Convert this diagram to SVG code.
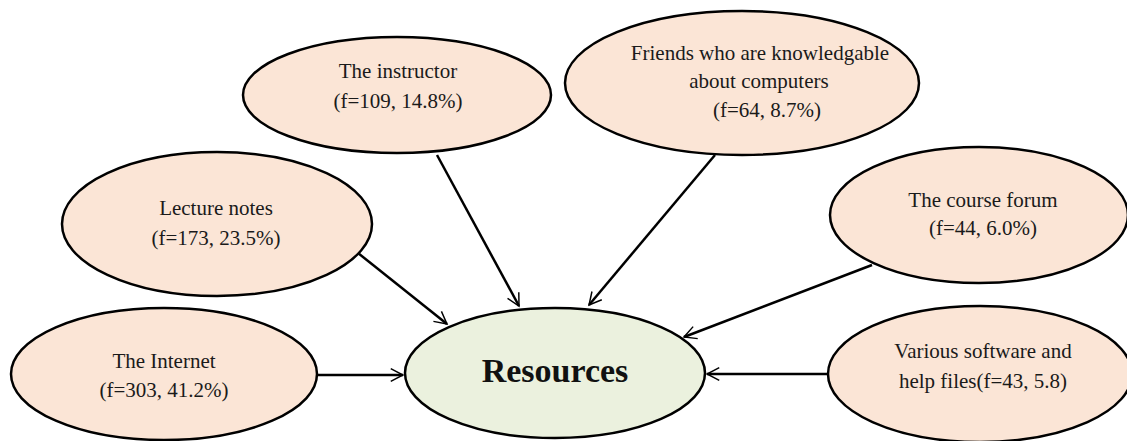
<svg xmlns="http://www.w3.org/2000/svg" width="1127" height="441" viewBox="0 0 1127 441">
<style>
.n{fill:#fbe5d6;stroke:#000;stroke-width:2.5}
.c{fill:#ebf1de;stroke:#000;stroke-width:2.5}
.t{font-family:"Liberation Serif","Times New Roman",serif;font-size:21px;fill:#1a1a1a;text-anchor:middle}
.b{font-family:"Liberation Serif","Times New Roman",serif;font-size:34px;font-weight:bold;fill:#111;text-anchor:middle}
.e{stroke:#000;stroke-width:2.5;fill:none;marker-end:url(#a)}
</style>
<defs>
<marker id="a" viewBox="0 0 12 12" refX="11" refY="6" markerWidth="7" markerHeight="7" markerUnits="userSpaceOnUse" orient="auto" overflow="visible">
<path d="M-10,-5 L11,6 L-10,17" fill="none" stroke="#000" stroke-width="2.5"/>
</marker>
</defs>
<rect width="1127" height="441" fill="#fff"/>
<g id="connectors">
<line class="e" x1="317" y1="375" x2="403" y2="375"/>
<line class="e" x1="358" y1="253" x2="447" y2="324"/>
<line class="e" x1="437" y1="155" x2="519" y2="306"/>
<line class="e" x1="715" y1="155" x2="589" y2="305"/>
<line class="e" x1="872" y1="265" x2="684" y2="337"/>
<line class="e" x1="828" y1="374" x2="707" y2="374"/>
</g>
<g id="internet">
<ellipse class="n" cx="164" cy="374" rx="153" ry="66"/>
<text class="t" x="164" y="368">The Internet</text>
<text class="t" x="164" y="397">(f=303, 41.2%)</text>
</g>
<g id="lecture">
<ellipse class="n" cx="217" cy="224" rx="155" ry="72"/>
<text class="t" x="216" y="215">Lecture notes</text>
<text class="t" x="216" y="245">(f=173, 23.5%)</text>
</g>
<g id="instructor">
<ellipse class="n" cx="397" cy="95" rx="154" ry="58"/>
<text class="t" x="398" y="78">The instructor</text>
<text class="t" x="398" y="108">(f=109, 14.8%)</text>
</g>
<g id="friends">
<ellipse class="n" cx="742" cy="83" rx="177" ry="72"/>
<text class="t" x="760" y="60">Friends who are knowledgable</text>
<text class="t" x="759" y="88">about computers</text>
<text class="t" x="767" y="117">(f=64, 8.7%)</text>
</g>
<g id="forum">
<ellipse class="n" cx="979" cy="215" rx="149" ry="68"/>
<text class="t" x="983" y="207">The course forum</text>
<text class="t" x="983" y="235">(f=44, 6.0%)</text>
</g>
<g id="software">
<ellipse class="n" cx="980" cy="374" rx="152" ry="68"/>
<text class="t" x="983" y="358">Various software and</text>
<text class="t" x="983" y="388">help files(f=43, 5.8)</text>
</g>
<g id="resources">
<ellipse class="c" cx="555" cy="373" rx="150" ry="65"/>
<text class="b" x="555" y="382">Resources</text>
</g>
</svg>
